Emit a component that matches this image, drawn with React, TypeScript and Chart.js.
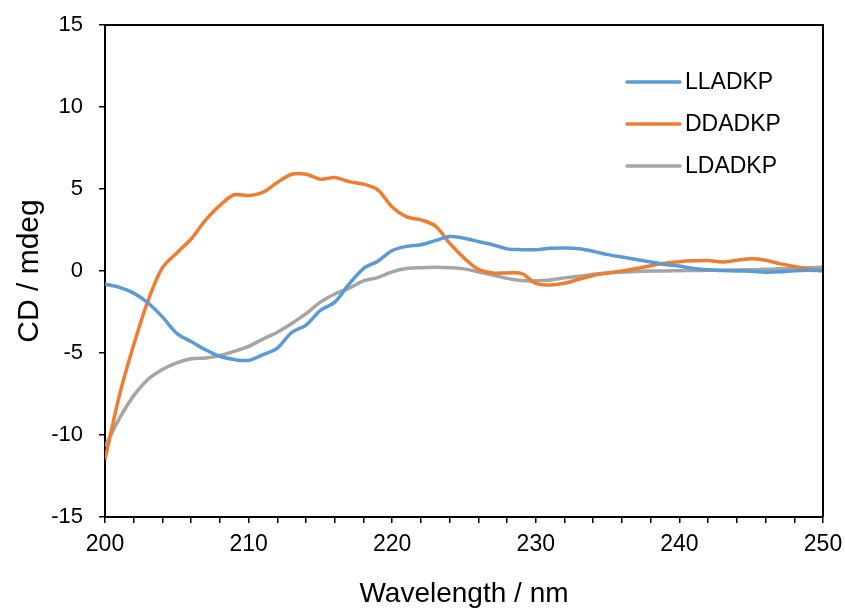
import React, { useEffect, useRef } from "react";
import { Chart, registerables } from "chart.js";

Chart.register(...registerables);

const wavelengths = [
  200, 201, 202, 203, 204, 205, 206, 207, 208, 209,
  210, 211, 212, 213, 214, 215, 216, 217, 218, 219,
  220, 221, 222, 223, 224, 225, 226, 227, 228, 229,
  230, 231, 232, 233, 234, 235, 236, 237, 238, 239,
  240, 241, 242, 243, 244, 245, 246, 247, 248, 249, 250,
];

const seriesNames = ["LLADKP", "DDADKP", "LDADKP"];
const seriesColors = ["#5B9BD5", "#ED7D31", "#A5A5A5"];

const lladkp = [
  -0.8, -1.0, -1.35, -1.95, -2.8, -3.8, -4.3, -4.8, -5.2, -5.4,
  -5.45, -5.1, -4.7, -3.75, -3.3, -2.4, -1.9, -0.8, 0.15, 0.6,
  1.25, 1.5, 1.6, 1.85, 2.1, 2.0, 1.8, 1.6, 1.35, 1.3,
  1.3, 1.38, 1.4, 1.35, 1.2, 1.0, 0.85, 0.7, 0.55, 0.4,
  0.3, 0.15, 0.07, 0.03, 0.0, -0.02, -0.07, -0.05, 0.02, 0.05, 0.03,
];

const ddadkp = [
  -11.5, -7.6, -4.5, -1.8, 0.2, 1.1, 1.95, 3.1, 4.0, 4.65,
  4.6, 4.8, 5.4, 5.9, 5.9, 5.6, 5.7, 5.45, 5.3, 4.95,
  3.9, 3.3, 3.12, 2.75, 1.7, 0.8, 0.1, -0.12, -0.12, -0.15,
  -0.75, -0.85, -0.75, -0.5, -0.27, -0.12, 0.0, 0.15, 0.32, 0.48,
  0.57, 0.62, 0.64, 0.55, 0.65, 0.74, 0.66, 0.45, 0.28, 0.12, 0.0,
];

const ldadkp = [
  -10.7, -9.0, -7.6, -6.6, -6.0, -5.6, -5.35, -5.3, -5.15, -4.9,
  -4.6, -4.15, -3.73, -3.2, -2.6, -1.9, -1.4, -1.05, -0.6, -0.4,
  -0.05, 0.15, 0.2, 0.23, 0.2, 0.13, -0.05, -0.25, -0.45, -0.58,
  -0.6, -0.55, -0.42, -0.32, -0.2, -0.12, -0.06, -0.03, 0.0, 0.0,
  0.02, 0.03, 0.04, 0.05, 0.06, 0.08, 0.1, 0.13, 0.17, 0.2, 0.23,
];

const seriesValues = [lladkp, ddadkp, ldadkp];

const xMin = 200;
const xMax = 250;
const yMin = -15;
const yMax = 15;
const xTitle = "Wavelength / nm";
const yTitle = "CD / mdeg";

const FONT = "'Liberation Sans', Arial, sans-serif";

const boxAndLegend = {
  id: "boxAndLegend",
  afterDraw(chart: any) {
    const { ctx, chartArea } = chart;
    ctx.save();
    ctx.strokeStyle = "#000";
    ctx.lineWidth = 2;
    ctx.beginPath();
    ctx.moveTo(chartArea.left, chartArea.top);
    ctx.lineTo(chartArea.right, chartArea.top);
    ctx.lineTo(chartArea.right, chartArea.bottom);
    ctx.stroke();

    const lx = chartArea.left + 522;
    const rows = [57, 99, 141];
    chart.data.datasets.forEach((ds: any, i: number) => {
      const y = chartArea.top + rows[i];
      ctx.strokeStyle = ds.borderColor;
      ctx.lineWidth = 3.5;
      ctx.lineCap = "round";
      ctx.beginPath();
      ctx.moveTo(lx, y);
      ctx.lineTo(lx + 53, y);
      ctx.stroke();
      ctx.fillStyle = "#000";
      ctx.font = `23px ${FONT}`;
      ctx.textBaseline = "middle";
      ctx.textAlign = "left";
      ctx.fillText(ds.label, lx + 58, y + 1);
    });
    ctx.restore();
  },
};

export default function App() {
  const ref = useRef<HTMLCanvasElement | null>(null);

  useEffect(() => {
    document.body.style.margin = "0";
    const canvas = ref.current;
    if (!canvas) return;
    const chart = new Chart(canvas, {
      type: "line",
      data: {
        datasets: seriesNames.map((name, i) => ({
          label: name,
          data: wavelengths.map((w, j) => ({ x: w, y: seriesValues[i][j] })),
          borderColor: seriesColors[i],
          backgroundColor: seriesColors[i],
          borderWidth: 3.5,
          pointRadius: 0,
          tension: 0.3,
          fill: false,
        })),
      },
      options: {
        responsive: false,
        animation: false,
        layout: { padding: { top: 25, right: 22, left: 0, bottom: 0 } },
        plugins: {
          legend: { display: false },
          tooltip: { enabled: false },
        },
        scales: {
          x: {
            type: "linear",
            min: xMin,
            max: xMax,
            afterFit(scale: any) {
              scale.height = 94;
              scale.paddingLeft = 0;
              scale.paddingRight = 0;
            },
            ticks: {
              stepSize: 2,
              autoSkip: false,
              maxRotation: 0,
              color: "#000",
              padding: 8,
              font: { family: FONT, size: 23 },
              callback: (v: any) => (Number(v) % 10 === 0 ? String(v) : ""),
            },
            grid: {
              display: true,
              drawOnChartArea: false,
              drawTicks: true,
              tickLength: 6,
              color: "#000",
              lineWidth: 1.5,
            },
            border: { display: true, color: "#000", width: 2 },
            title: {
              display: true,
              text: xTitle,
              color: "#000",
              font: { family: FONT, size: 28 },
              padding: { top: 0, bottom: 0 },
            },
          },
          y: {
            type: "linear",
            min: yMin,
            max: yMax,
            afterFit(scale: any) {
              scale.width = 105;
              scale.paddingTop = 0;
              scale.paddingBottom = 0;
            },
            ticks: {
              stepSize: 5,
              color: "#000",
              padding: 16,
              font: { family: FONT, size: 22 },
            },
            grid: {
              display: true,
              drawOnChartArea: false,
              drawTicks: true,
              tickLength: 6,
              color: "#000",
              lineWidth: 1.5,
            },
            border: { display: true, color: "#000", width: 2 },
            title: {
              display: true,
              text: yTitle,
              color: "#000",
              font: { family: FONT, size: 30 },
              padding: { top: 12, bottom: 0 },
            },
          },
        },
      },
      plugins: [boxAndLegend],
    });
    return () => chart.destroy();
  }, []);

  return (
    <div style={{ position: "absolute", left: 0, top: 0, width: 845, height: 611, background: "#fff" }}>
      <canvas ref={ref} width={845} height={611} style={{ width: 845, height: 611 }} />
    </div>
  );
}
